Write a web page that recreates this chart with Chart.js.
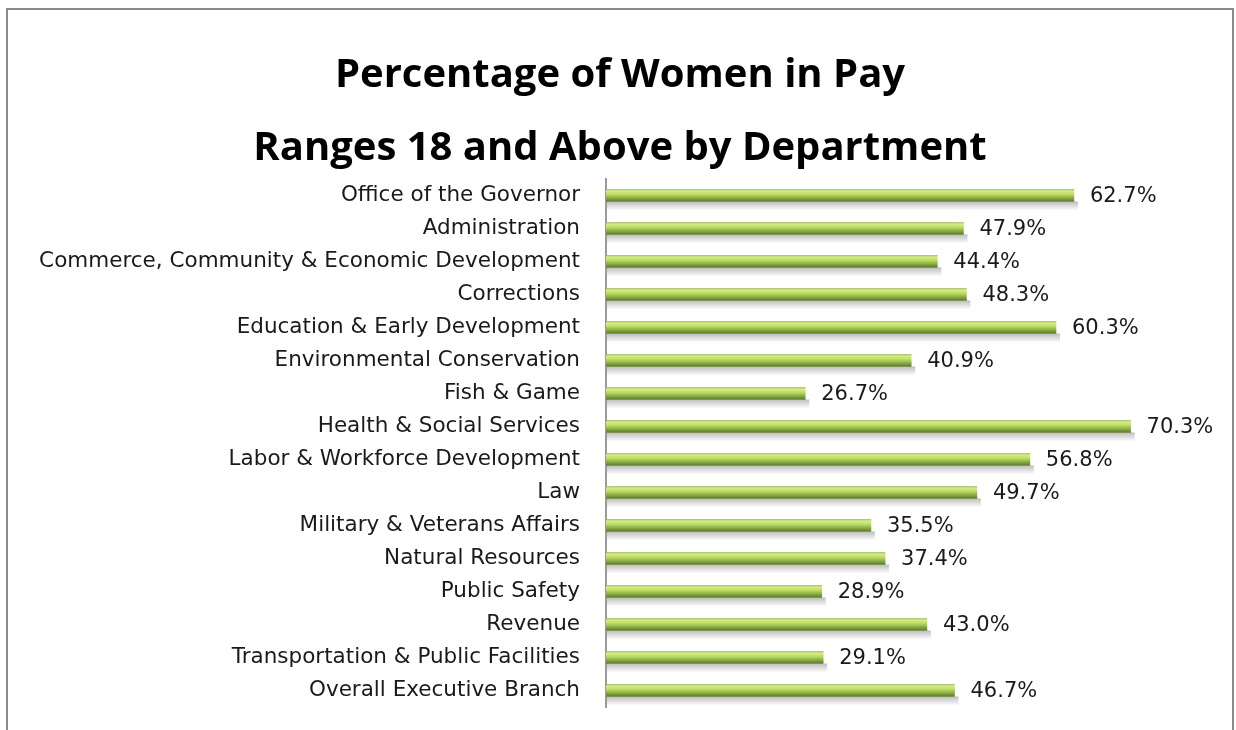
<!DOCTYPE html>
<html>
<head>
<meta charset="utf-8">
<script src="https://cdn.jsdelivr.net/npm/chart.js@4"></script>
<style>
  html, body { margin: 0; padding: 0; background: #fff; overflow: hidden; }
  #frame {
    position: absolute; left: 6px; top: 8px; width: 1228px; height: 800px;
    border: 2px solid #8a8a8a; box-sizing: border-box;
  }
  #wrap { position: absolute; left: 0; top: 0; width: 1236px; height: 730px; }
</style>
</head>
<body>
<div id="frame"></div>
<div id="wrap"><canvas id="chart" width="1236" height="730"></canvas></div>
<script>
const titleLines = ["Percentage of Women in Pay", "Ranges 18 and Above by Department"];

const departments = [
  "Office of the Governor",
  "Administration",
  "Commerce, Community & Economic Development",
  "Corrections",
  "Education & Early Development",
  "Environmental Conservation",
  "Fish & Game",
  "Health & Social Services",
  "Labor & Workforce Development",
  "Law",
  "Military & Veterans Affairs",
  "Natural Resources",
  "Public Safety",
  "Revenue",
  "Transportation & Public Facilities",
  "Overall Executive Branch"
];

const womenPct = [62.7, 47.9, 44.4, 48.3, 60.3, 40.9, 26.7, 70.3, 56.8, 49.7, 35.5, 37.4, 28.9, 43.0, 29.1, 46.7];

(() => {
  if (typeof Chart === "undefined") return;

  const FONT = "'DejaVu Sans', 'Open Sans', sans-serif";
  const BAR_H = 12;

  function barGradient(context) {
    const { chart, dataIndex } = context;
    const yScale = chart.scales.y;
    if (!yScale || !chart.chartArea) return "#b5d55f";
    const y = yScale.getPixelForValue(dataIndex);
    const g = chart.ctx.createLinearGradient(0, y - BAR_H / 2, 0, y + BAR_H / 2);
    g.addColorStop(0, "#98b852");
    g.addColorStop(0.12, "#d6ef88");
    g.addColorStop(0.4, "#bedc64");
    g.addColorStop(0.65, "#93b64a");
    g.addColorStop(0.88, "#6f8d36");
    g.addColorStop(1, "#5d7a2c");
    return g;
  }

  // soft grey shadow under each bar
  const shadowPlugin = {
    id: "shadowPlugin",
    beforeDatasetsDraw(chart) {
      const { ctx } = chart;
      const meta = chart.getDatasetMeta(0);
      ctx.save();
      meta.data.forEach((bar) => {
        const top = bar.y + BAR_H / 2;
        const g = ctx.createLinearGradient(0, top, 0, top + 9);
        g.addColorStop(0, "rgba(0,0,0,0.26)");
        g.addColorStop(1, "rgba(0,0,0,0)");
        ctx.fillStyle = g;
        ctx.fillRect(bar.base + 1, top, bar.x - bar.base + 3, 9);
      });
      ctx.restore();
    }
  };

  const valueLabelPlugin = {
    id: "valueLabelPlugin",
    afterDatasetsDraw(chart) {
      const { ctx } = chart;
      const meta = chart.getDatasetMeta(0);
      const data = chart.data.datasets[0].data;
      ctx.save();
      ctx.font = "21px " + FONT;
      ctx.fillStyle = "#1a1a1a";
      ctx.textAlign = "left";
      ctx.textBaseline = "middle";
      meta.data.forEach((bar, i) => {
        ctx.fillText(data[i].toFixed(1) + "%", bar.x + 16, bar.y + 1);
      });
      ctx.restore();
    }
  };

  // two-line title centred on the frame rather than the plot box
  const titlePlugin = {
    id: "titlePlugin",
    afterDraw(chart) {
      const { ctx } = chart;
      ctx.save();
      ctx.font = "bold 40px 'Open Sans', sans-serif";
      ctx.fillStyle = "#000";
      ctx.textAlign = "center";
      ctx.textBaseline = "middle";
      ctx.fillText(titleLines[0], 620, 76);
      ctx.fillText(titleLines[1], 620, 149);
      ctx.restore();
    }
  };

  new Chart(document.getElementById("chart"), {
    type: "bar",
    data: {
      labels: departments,
      datasets: [
        {
          data: womenPct,
          backgroundColor: barGradient,
          borderWidth: 0,
          barThickness: BAR_H
        }
      ]
    },
    options: {
      indexAxis: "y",
      responsive: false,
      animation: false,
      layout: {
        padding: { left: 0, right: 33, top: 179, bottom: 23 }
      },
      plugins: {
        legend: { display: false },
        tooltip: { enabled: false },
        title: { display: false }
      },
      scales: {
        x: {
          display: false,
          min: 0,
          max: 80
        },
        y: {
          afterFit(scale) {
            scale.width = 606;
            scale.paddingTop = 0;
            scale.paddingBottom = 0;
          },
          grid: { display: false, drawTicks: false },
          border: { display: true, color: "#9a9a9a", width: 2 },
          ticks: {
            color: "#1a1a1a",
            padding: 26,
            font: { family: FONT, size: 21.5 }
          }
        }
      }
    },
    plugins: [shadowPlugin, valueLabelPlugin, titlePlugin]
  });
})();
</script>
</body>
</html>
